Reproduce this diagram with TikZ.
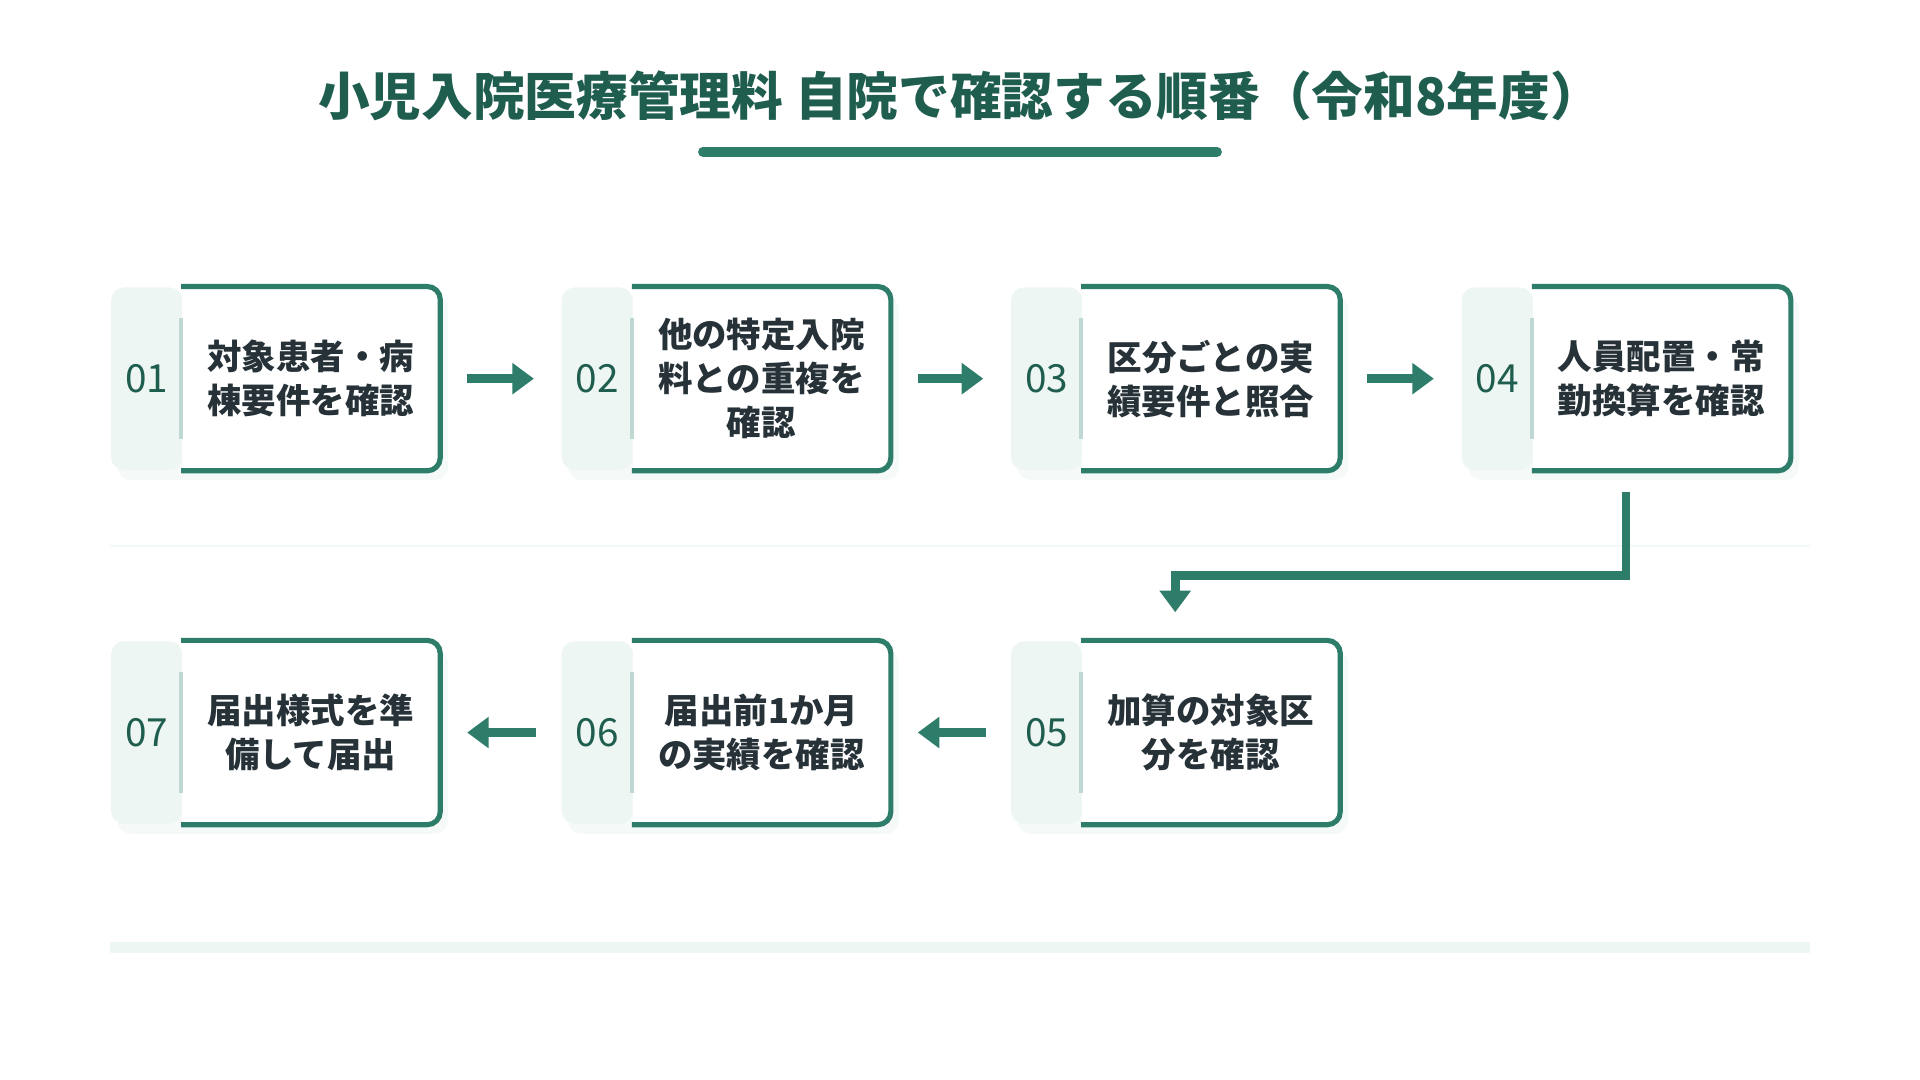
\documentclass[tikz,border=0pt]{standalone}
\usepackage{fontspec}
\setmainfont{Noto Sans CJK JP}
\usetikzlibrary{arrows.meta,positioning,calc}
\definecolor{deep}{HTML}{1F5E4E}
\definecolor{mid}{HTML}{2E7D6B}
\definecolor{pale}{HTML}{EEF6F3}
\definecolor{ink}{HTML}{263238}
\begin{document}
\begin{tikzpicture}[x=0.01cm,y=-0.01cm,
  font=\bfseries,
  numpanel/.style={rectangle, fill=pale, rounded corners=3pt, minimum width=0.58cm, minimum height=1.49cm, inner sep=0pt, anchor=north west},
  stepbox/.style={rectangle, fill=white, minimum width=2.1cm, minimum height=1.49cm, inner sep=0pt, anchor=north west, align=center, text=ink, font=\fontsize{8pt}{10.2pt}\selectfont\bfseries},
  num/.style={text=deep, font=\fontsize{9pt}{10pt}\selectfont},
  flow/.style={-{Triangle[length=5pt,width=7pt]}, draw=mid, line width=2pt}
]
\useasboundingbox (0,0) rectangle (1568,882);

\node[text=deep, font=\fontsize{12pt}{14pt}\selectfont\bfseries] (title) at (784,78) {小児入院医療管理料 自院で確認する順番（令和8年度）};
\draw[mid, line width=2.2pt, line cap=round] (574,124) -- (994,124);

\draw[pale!70, line width=0.6pt] (90,446) -- (1478,446);
\draw[pale, line width=2.5pt] (90,774) -- (1478,774);

\foreach \i/\x/\y/\t in {1/90/234/{対象患者・病\\棟要件を確認},
                         2/458/234/{他の特定入院\\料との重複を\\確認},
                         3/825/234/{区分ごとの実\\績要件と照合},
                         4/1193/234/{人員配置・常\\勤換算を確認},
                         5/825/523/{加算の対象区\\分を確認},
                         6/458/523/{届出前1か月\\の実績を確認},
                         7/90/523/{届出様式を準\\備して届出}} {
  \fill[pale!60, rounded corners=3pt] (\x+6,\y+8) rectangle ++(270,150);
  \node[numpanel] (p\i) at (\x,\y) {};
  \node[stepbox] (b\i) at (\x+58,\y) {\t};
  \draw[mid, line width=1.2pt, rounded corners=3pt] (b\i.north west) -- (b\i.north east) -- (b\i.south east) -- (b\i.south west);
  \draw[mid!30, line width=1pt] ($(b\i.north west)+(0,26)$) -- ($(b\i.south west)+(0,-26)$);
  \node[num] (n\i) at (p\i.center) {0\i};
}

\draw[flow] ($(b1.east)+(22,0)$) -- ($(p2.west)+(-22,0)$);
\draw[flow] ($(b2.east)+(22,0)$) -- ($(p3.west)+(-22,0)$);
\draw[flow] ($(b3.east)+(22,0)$) -- ($(p4.west)+(-22,0)$);
\draw[flow] ($(p5.west)+(-20,0)$) -- ($(b6.east)+(22,0)$);
\draw[flow] ($(p6.west)+(-20,0)$) -- ($(b7.east)+(22,0)$);

\coordinate (out4) at ($(p4.south west)!.5!(b4.south east)+(0,17)$);
\coordinate (in5) at ($(p5.north west)!.5!(b5.north east)+(0,-23)$);
\draw[flow] (out4) -- (out4 |- 0,470) -- (in5 |- 0,470) -- (in5);
\end{tikzpicture}
\end{document}
